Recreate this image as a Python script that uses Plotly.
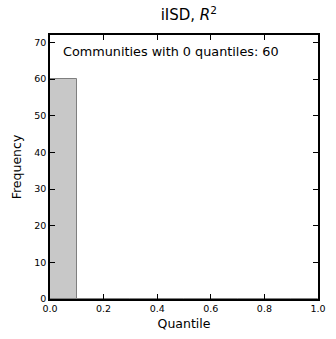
import plotly.graph_objects as go

bin_edges = [0.0, 0.1, 0.2, 0.3, 0.4, 0.5, 0.6, 0.7, 0.8, 0.9, 1.0]
counts = [60, 0, 0, 0, 0, 0, 0, 0, 0, 0]
x_ticks = [0.0, 0.2, 0.4, 0.6, 0.8, 1.0]
y_ticks = [0, 10, 20, 30, 40, 50, 60, 70]
title_text = "iISD, <i>R</i><sup>2</sup>"
note_text = "Communities with 0 quantiles: 60"

centers = [(a + b) / 2 for a, b in zip(bin_edges[:-1], bin_edges[1:])]
widths = [b - a for a, b in zip(bin_edges[:-1], bin_edges[1:])]

fig = go.Figure()
fig.add_trace(go.Bar(
    x=centers, y=counts, width=widths,
    marker=dict(color="#c8c8c8", line=dict(color="#7f7f7f", width=1)),
    showlegend=False,
))

axis_common = dict(
    showgrid=False, zeroline=False, showline=True, mirror="allticks",
    linecolor="black", linewidth=1.5, ticks="inside", ticklen=5,
    tickcolor="black", tickfont=dict(family="DejaVu Sans", size=9.5, color="black"),
)

fig.update_layout(
    width=336, height=339,
    margin=dict(l=50, r=10, t=35, b=36),
    paper_bgcolor="white", plot_bgcolor="white",
    font=dict(family="DejaVu Sans", color="black"),
    title=dict(text=title_text, x=0.562, xanchor="center", y=0.972, yanchor="top",
               font=dict(family="DejaVu Sans", size=15, color="black")),
    bargap=0,
    xaxis=dict(range=[0, 1], tickvals=x_ticks, ticktext=[f"{v:.1f}" for v in x_ticks],
               title=dict(text="Quantile", font=dict(size=12.5), standoff=6), **axis_common),
    yaxis=dict(range=[0, 72], tickvals=y_ticks,
               title=dict(text="Frequency", font=dict(size=12.5), standoff=10), **axis_common),
    annotations=[dict(text=note_text, xref="paper", yref="paper", x=0.04, y=0.975,
                      xanchor="left", yanchor="top", showarrow=False,
                      font=dict(family="DejaVu Sans", size=12.8, color="black"))],
)

fig.write_html("out.html")
